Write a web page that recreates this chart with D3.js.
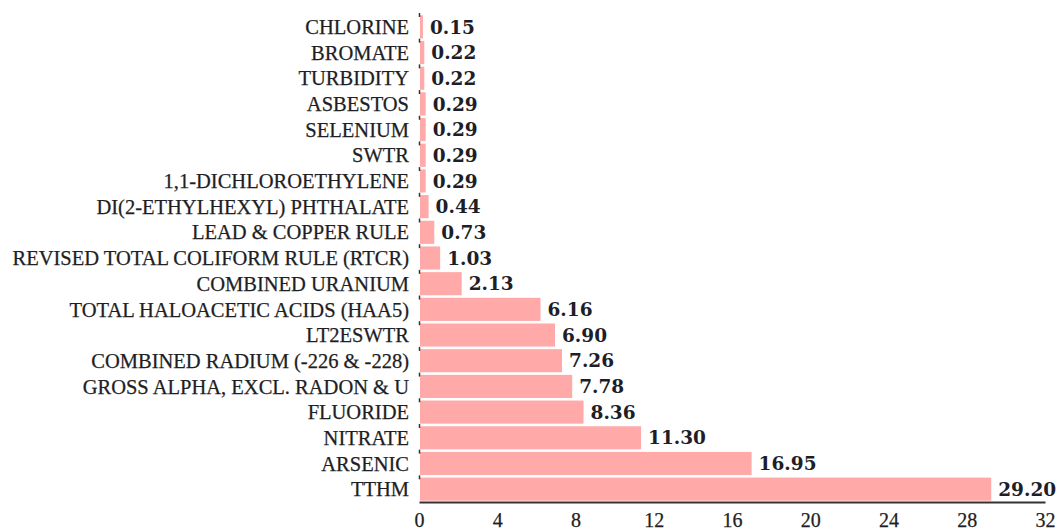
<!DOCTYPE html>
<html>
<head>
<meta charset="utf-8">
<script src="https://cdn.jsdelivr.net/npm/d3@7"></script>
<style>
  body { margin: 0; background: #fff; }
  svg { display: block; }
</style>
</head>
<body>
<div id="chart"></div>
<script>
// categories top to bottom
const categories = [
    "CHLORINE", "BROMATE", "TURBIDITY", "ASBESTOS", "SELENIUM", "SWTR",
    "1,1-DICHLOROETHYLENE", "DI(2-ETHYLHEXYL) PHTHALATE", "LEAD & COPPER RULE",
    "REVISED TOTAL COLIFORM RULE (RTCR)", "COMBINED URANIUM",
    "TOTAL HALOACETIC ACIDS (HAA5)", "LT2ESWTR", "COMBINED RADIUM (-226 & -228)",
    "GROSS ALPHA, EXCL. RADON & U", "FLUORIDE", "NITRATE", "ARSENIC", "TTHM"
];
const values = [
    0.15, 0.22, 0.22, 0.29, 0.29, 0.29,
    0.29, 0.44, 0.73,
    1.03, 2.13,
    6.16, 6.90, 7.26,
    7.78, 8.36, 11.30, 16.95, 29.20
];
const xTicks = [0, 4, 8, 12, 16, 20, 24, 28, 32];

const width = 1059;
const height = 531;

const data = categories.map((c, i) => ({ name: c, value: values[i] }));

const svg = d3.select('#chart')
    .append('svg')
    .attr('width', width)
    .attr('height', height);

const x = d3.scaleLinear().domain([0, 32]).range([419, 1045]);
const y = d3.scaleBand()
    .domain(categories)
    .range([14, 502])
    .paddingInner(0.1)
    .paddingOuter(0.05);

// bars
svg.append('g')
    .selectAll('rect')
    .data(data)
    .join('rect')
    .attr('x', x(0) + 1)
    .attr('y', d => y(d.name))
    .attr('width', d => x(d.value) - x(0))
    .attr('height', y.bandwidth())
    .attr('fill', '#ffa9a9');

// small ticks on the left edge at band boundaries
const step = y.step();
svg.append('g')
    .selectAll('line')
    .data(categories)
    .join('line')
    .attr('x1', x(0) + 0.5)
    .attr('x2', x(0) + 0.5)
    .attr('y1', d => y(d) - step * 0.05 - 1)
    .attr('y2', d => y(d) - step * 0.05 + 3)
    .attr('stroke', '#333')
    .attr('stroke-width', 1.5);

// category labels
svg.append('g')
    .selectAll('text')
    .data(data)
    .join('text')
    .attr('x', 409)
    .attr('y', d => y(d.name) + y.bandwidth() / 2)
    .attr('dy', '0.35em')
    .attr('text-anchor', 'end')
    .style('font-family', '"Liberation Serif", serif')
    .style('font-size', '20.5px')
    .style('fill', '#1e1e24')
    .style('stroke', '#1e1e24')
    .style('stroke-width', '0.25px')
    .text(d => d.name);

// value labels
svg.append('g')
    .selectAll('text')
    .data(data)
    .join('text')
    .attr('x', d => x(d.value) + 8)
    .attr('y', d => y(d.name) + y.bandwidth() / 2)
    .attr('dy', '0.36em')
    .style('font-family', '"DejaVu Serif", serif')
    .style('font-weight', 'bold')
    .style('font-size', '18.5px')
    .style('fill', '#1e1e28')
    .text(d => d.value.toFixed(2));

// x axis
const xAxis = svg.append('g')
    .attr('transform', 'translate(0,502)')
    .call(d3.axisBottom(x).tickValues(xTicks).tickSize(0).tickPadding(10.5));

xAxis.select('.domain')
    .attr('stroke', '#333')
    .attr('stroke-width', 2);

xAxis.selectAll('text')
    .style('font-family', '"Liberation Serif", serif')
    .style('font-size', '20px')
    .style('fill', '#1e1e24')
    .style('stroke', '#1e1e24')
    .style('stroke-width', '0.25px');
</script>
</body>
</html>
